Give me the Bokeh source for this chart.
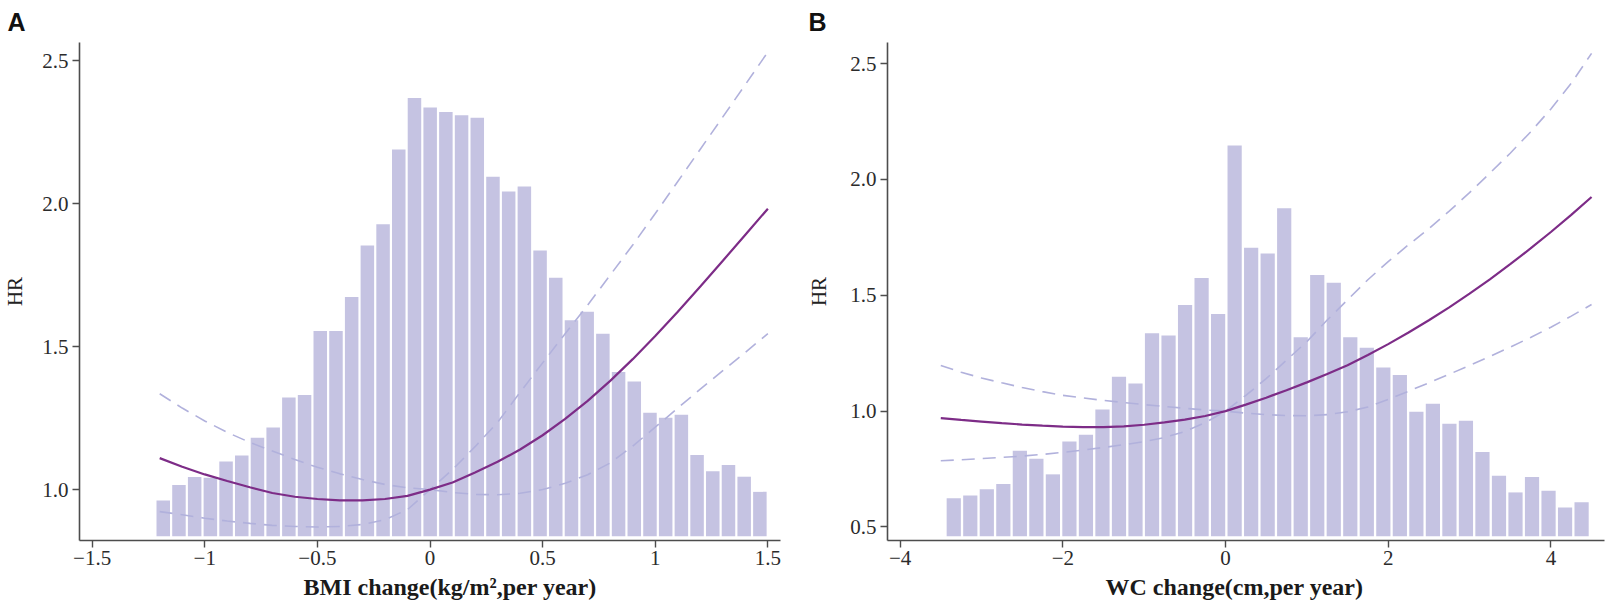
from bokeh.plotting import figure
from bokeh.models import Range1d, FixedTicker, Title
from bokeh.layouts import row
from bokeh.embed import file_html
from bokeh.resources import INLINE

# ---------------- Panel A data (BMI change) ----------------
A_bin_start = -1.219
A_bin_width = 0.0697
A_bar_base = 0.837
A_bars = [0.962, 1.016, 1.044, 1.041, 1.098, 1.119, 1.181, 1.217, 1.322, 1.331,
          1.554, 1.554, 1.673, 1.853, 1.928, 2.189, 2.369, 2.336, 2.320, 2.309,
          2.300, 2.094, 2.042, 2.060, 1.836, 1.741, 1.592, 1.622, 1.545, 1.411,
          1.378, 1.269, 1.251, 1.262, 1.121, 1.064, 1.086, 1.045, 0.992]
A_x = [-1.2, -1.1, -1.0, -0.9, -0.8, -0.7, -0.6, -0.5, -0.4, -0.3, -0.2, -0.1, 0.0,
       0.1, 0.2, 0.3, 0.4, 0.5, 0.6, 0.7, 0.8, 0.9, 1.0, 1.1, 1.2, 1.3, 1.4, 1.5]
A_hr = [1.110, 1.080, 1.053, 1.030, 1.008, 0.988, 0.975, 0.967, 0.962, 0.962, 0.967, 0.978, 1.000,
        1.025, 1.060, 1.097, 1.140, 1.190, 1.247, 1.310, 1.380, 1.456, 1.537, 1.622, 1.710, 1.800, 1.891, 1.982]
A_ci1 = [1.335, 1.285, 1.240, 1.200, 1.165, 1.135, 1.105, 1.078, 1.055, 1.035, 1.018, 1.006, 1.000,
         0.990, 0.983, 0.982, 0.987, 1.000, 1.022, 1.052, 1.093, 1.152, 1.218, 1.285, 1.351, 1.416, 1.480, 1.545]
A_ci2 = [0.923, 0.912, 0.900, 0.890, 0.882, 0.875, 0.871, 0.869, 0.871, 0.878, 0.895, 0.930, 1.000,
         1.070, 1.150, 1.235, 1.340, 1.443, 1.545, 1.645, 1.750, 1.855, 1.965, 2.077, 2.190, 2.303, 2.416, 2.530]
A_xticks = [-1.5, -1.0, -0.5, 0.0, 0.5, 1.0, 1.5]
A_xlabels = ["\u22121.5", "\u22121", "\u22120.5", "0", "0.5", "1", "1.5"]
A_yticks = [1.0, 1.5, 2.0, 2.5]
A_ylabels = ["1.0", "1.5", "2.0", "2.5"]

# ---------------- Panel B data (WC change) ----------------
B_bin_start = -3.442
B_bin_width = 0.2031
B_bar_base = 0.46
B_bars = [0.624, 0.636, 0.663, 0.685, 0.829, 0.794, 0.727, 0.869, 0.898, 1.007,
          1.148, 1.119, 1.336, 1.326, 1.458, 1.574, 1.419, 2.146, 1.705, 1.680,
          1.876, 1.319, 1.587, 1.554, 1.319, 1.273, 1.188, 1.156, 0.997, 1.032,
          0.945, 0.958, 0.824, 0.721, 0.649, 0.716, 0.656, 0.584, 0.607]
B_x = [-3.5, -3.25, -3.0, -2.75, -2.5, -2.25, -2.0, -1.75, -1.5, -1.25, -1.0, -0.75, -0.5, -0.25,
       0.0, 0.25, 0.5, 0.75, 1.0, 1.25, 1.5, 1.75, 2.0, 2.25, 2.5, 2.75, 3.0, 3.25, 3.5, 3.75, 4.0, 4.25, 4.5]
B_hr = [0.970, 0.962, 0.955, 0.948, 0.942, 0.937, 0.933, 0.931, 0.931, 0.934, 0.941, 0.951, 0.963, 0.979,
        1.000, 1.028, 1.058, 1.090, 1.124, 1.160, 1.198, 1.242, 1.289, 1.339, 1.392, 1.448, 1.507, 1.569,
        1.634, 1.702, 1.773, 1.847, 1.924]
B_ci1 = [1.197, 1.168, 1.143, 1.122, 1.102, 1.084, 1.068, 1.057, 1.046, 1.037, 1.028, 1.020, 1.012, 1.005,
         1.000, 0.991, 0.985, 0.981, 0.980, 0.985, 0.997, 1.018, 1.050, 1.086, 1.122, 1.159, 1.197, 1.236,
         1.276, 1.318, 1.362, 1.410, 1.460]
B_ci2 = [0.786, 0.790, 0.795, 0.800, 0.806, 0.813, 0.822, 0.832, 0.843, 0.855, 0.868, 0.886, 0.912, 0.950,
         1.000, 1.068, 1.140, 1.220, 1.300, 1.393, 1.480, 1.567, 1.645, 1.718, 1.787, 1.863, 1.943, 2.027,
         2.113, 2.205, 2.304, 2.415, 2.544]
B_xticks = [-4.0, -2.0, 0.0, 2.0, 4.0]
B_xlabels = ["\u22124", "\u22122", "0", "2", "4"]
B_yticks = [0.5, 1.0, 1.5, 2.0, 2.5]
B_ylabels = ["0.5", "1.0", "1.5", "2.0", "2.5"]

BAR_COLOR = "#c5c3e2"
LINE_COLOR = "#7d2c87"
CI_COLOR = "#b1b1dc"
AXIS_COLOR = "#4d4d4d"
SERIF = "Liberation Serif"


def panel(letter, xlabel, bin_start, bin_width, bar_base, bars, xs, hr, ci1, ci2,
          xticks, xlabels, yticks, ylabels, xr, yr, width, bl, br, ystand,
          xlabel_offset, letter_offset):
    p = figure(width=width, height=608, x_range=Range1d(*xr), y_range=Range1d(*yr),
               output_backend="svg", toolbar_location=None,
               min_border_left=bl, min_border_right=br, min_border_top=42, min_border_bottom=68)
    p.outline_line_color = None
    p.xgrid.visible = False
    p.ygrid.visible = False
    p.background_fill_color = "white"

    centers = [bin_start + (i + 0.5) * bin_width for i in range(len(bars))]
    p.vbar(x=centers, width=bin_width * 0.86, bottom=bar_base, top=bars,
           fill_color=BAR_COLOR, line_color=None)
    p.line(xs, ci1, line_color=CI_COLOR, line_width=1.6, line_dash="13 8")
    p.line(xs, ci2, line_color=CI_COLOR, line_width=1.6, line_dash="13 8")
    p.line(xs, hr, line_color=LINE_COLOR, line_width=2.2)

    for ax in (p.xaxis, p.yaxis):
        ax.axis_line_color = AXIS_COLOR
        ax.axis_line_width = 1.6
        ax.major_tick_line_color = AXIS_COLOR
        ax.major_tick_line_width = 1.4
        ax.major_tick_out = 7
        ax.major_tick_in = 0
        ax.minor_tick_line_color = None
        ax.major_label_text_font = SERIF
        ax.major_label_text_font_size = "21px"
        ax.major_label_text_color = "#2b2b2b"
    p.xaxis.ticker = FixedTicker(ticks=xticks)
    p.xaxis.major_label_overrides = {t: s for t, s in zip(xticks, xlabels)}
    p.xaxis.major_label_standoff = 3
    p.yaxis.ticker = FixedTicker(ticks=yticks)
    p.yaxis.major_label_overrides = {t: s for t, s in zip(yticks, ylabels)}
    p.yaxis.major_label_standoff = 4
    p.yaxis.axis_label = "HR"
    p.yaxis.axis_label_text_font = SERIF
    p.yaxis.axis_label_text_font_size = "21px"
    p.yaxis.axis_label_text_font_style = "normal"
    p.yaxis.axis_label_text_color = "#222222"
    p.yaxis.axis_label_standoff = ystand

    p.add_layout(Title(text=xlabel, align="left", offset=xlabel_offset, text_font=SERIF,
                       text_font_size="24px", text_font_style="bold", text_color="#1a1a1a",
                       standoff=9), "below")
    p.add_layout(Title(text=letter, align="left", offset=letter_offset, text_font="Liberation Sans",
                       text_font_size="25px", text_font_style="bold", text_color="#111111",
                       vertical_align="top", standoff=10), "above")
    return p


pa = panel("A", "BMI change(kg/m\u00b2,per year)", A_bin_start, A_bin_width, A_bar_base, A_bars,
           A_x, A_hr, A_ci1, A_ci2, A_xticks, A_xlabels, A_yticks, A_ylabels,
           (-1.556, 1.556), (0.822, 2.563), 800, 73, 20, 12, 224, -72)
pb = panel("B", "WC change(cm,per year)", B_bin_start, B_bin_width, B_bar_base, B_bars,
           B_x, B_hr, B_ci1, B_ci2, B_xticks, B_xlabels, B_yticks, B_ylabels,
           (-4.155, 4.659), (0.4415, 2.591), 806, 87, 2, 16, 218, -79)

layout = row(pa, pb)
open("out.html", "w").write(file_html(layout, INLINE))
